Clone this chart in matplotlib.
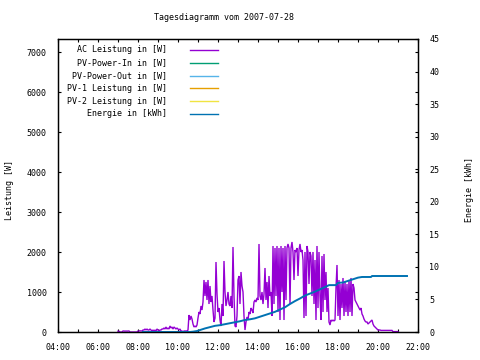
import numpy as np
import matplotlib
matplotlib.use("Agg")
import matplotlib.pyplot as plt
from matplotlib.lines import Line2D

# ---------------- data ----------------
title = "Tagesdiagramm vom 2007-07-28"
series_names = ["AC Leistung in [W]", "PV-Power-In in [W]", "PV-Power-Out in [W]",
                "PV-1 Leistung in [W]", "PV-2 Leistung in [W]", "Energie in [kWh]"]
series_colors = ["#9400d3", "#009e73", "#56b4e9", "#e69f00", "#f0e442", "#0072b2"]

# AC power samples, every 3 minutes from 07:00 to 21:00
ac_start_hour = 7.0
ac_step_hours = 0.05
ac_power = [
    20, 20, 0, 0, 0, 25, 25, 20, 25, 20, 25, 25, 0, 0, 0, 0, 0, 0, 0, 0,
    25, 25, 30, 25, 25, 50,
    50, 75, 50, 75, 50, 50, 75, 50, 25, 50,
    25, 50, 25, 75, 50, 25, 50, 50, 75,
    75, 100, 75, 125, 75, 100, 75, 150, 100, 125, 75, 125, 100, 75, 100, 75, 50, 75,
    25, 25, 0, 25, 25, 25, 25, 50,
    425, 300, 400, 325, 200, 125, 150, 125, 175, 350,
    500, 450, 650, 550, 750, 1300, 900, 1250, 800, 1300,
    700, 1150, 750, 900, 550, 250, 350, 1750, 950, 500,
    600, 300, 150, 700, 400, 1775, 1000, 650, 800, 1000,
    700, 650, 900, 600, 2125, 900, 150, 125, 400, 1300,
    1400, 700, 1500, 1150, 1000, 400, 50, 250, 375, 300,
    500, 450, 600, 550, 475, 750, 800, 750, 850, 800,
    2200, 900, 800, 1000, 700, 950, 1600, 800, 1250, 600,
    1400, 900, 1000, 400, 2150, 700, 2100, 900, 2150, 500,
    2100, 300, 2150, 1000, 2100, 300, 2150, 800, 2100, 2200,
    2100, 700, 2100, 2250, 2000, 1300, 2050, 2000, 2100, 1400,
    2050, 2200, 2000, 2050, 1800, 350, 2000, 400, 2150, 2000,
    1200, 2000, 1900, 900, 2000, 700, 1800, 300, 2150, 600,
    2000, 900, 300, 1900, 500, 1950, 800, 1500, 500, 1100,
    250, 175, 300, 275, 300, 275, 300, 1100, 1675, 400,
    1300, 300, 1200, 600, 1350, 400, 1250, 500, 1200, 400,
    1300, 500, 1350, 400, 1200, 1100, 800, 750, 700, 650,
    600, 550, 600, 450, 400, 325, 275, 250, 250, 200,
    225, 250, 275, 300, 200, 150, 125, 100, 75, 50,
    50, 50, 40, 40, 40, 40, 40, 40, 40, 40,
    40, 40, 40, 40, 10, 10, 10, 10, 10, 10,
]

# Energy (kWh), cumulative, at given times (hours)
energy_hours = [8.25, 10.6, 10.75, 10.95, 11.1, 11.35, 11.6, 11.85, 12.1, 12.35, 12.6,
                12.85, 13.1, 13.35, 13.6, 13.85, 14.1, 14.35, 14.6, 14.85, 15.1, 15.35,
                15.6, 15.85, 16.1, 16.35, 16.6, 16.85, 17.1, 17.35, 17.55, 17.9, 18.0,
                18.25, 18.5, 18.75, 19.0, 19.2, 19.65, 19.7, 21.45]
energy_kwh = [0.0, 0.0, 0.05, 0.15, 0.3, 0.55, 0.75, 0.95, 1.05, 1.2, 1.35,
              1.5, 1.65, 1.85, 1.95, 2.1, 2.35, 2.6, 2.85, 3.1, 3.45, 3.8,
              4.3, 4.75, 5.15, 5.6, 5.9, 6.2, 6.55, 6.9, 7.2, 7.2, 7.55,
              7.6, 7.85, 8.1, 8.35, 8.45, 8.45, 8.6, 8.6]

xtick_hours = [4, 6, 8, 10, 12, 14, 16, 18, 20, 22]
xtick_labels = ["04:00", "06:00", "08:00", "10:00", "12:00", "14:00", "16:00",
                "18:00", "20:00", "22:00"]
ytick_left = [0, 1000, 2000, 3000, 4000, 5000, 6000, 7000]
ytick_right = [0, 5, 10, 15, 20, 25, 30, 35, 40, 45]

# ---------------- plot ----------------
FONT = "DejaVu Sans Mono"
FS = 6.0
plt.rcParams["font.family"] = FONT

W, H = 480, 360
fig = plt.figure(figsize=(4.8, 3.6), dpi=100)
L, R, T, B = 58, 418, 39, 332
ax = fig.add_axes([L / W, 1 - B / H, (R - L) / W, (B - T) / H])
ax2 = ax.twinx()

ac_hours = ac_start_hour + ac_step_hours * np.arange(len(ac_power))
ax.plot(ac_hours, ac_power, color=series_colors[0], lw=1.0, solid_joinstyle="miter")
ax2.plot(energy_hours, energy_kwh, color=series_colors[5], lw=1.4)

ax.set_xlim(4, 22)
ax.set_ylim(0, 7325)
ax2.set_ylim(0, 45)

ax.set_xticks(xtick_hours)
ax.set_xticklabels(xtick_labels)
ax.set_xticks(np.arange(4, 23, 1), minor=True)
ax.set_yticks(ytick_left)
ax2.set_yticks(ytick_right)

tl = 2.3
ax.tick_params(axis="x", which="both", direction="in", top=True, bottom=True,
               length=tl, width=0.8, labelsize=FS, pad=8)
ax.tick_params(axis="y", which="both", direction="in", left=True, right=True,
               length=tl, width=0.8, labelsize=FS, pad=8)
ax2.tick_params(axis="y", direction="in", length=tl, width=0.8, labelsize=FS, pad=8)

for a in (ax, ax2):
    for s in a.spines.values():
        s.set_linewidth(0.9)
        s.set_color("black")

fig.text(224 / W, 1 - 18 / H, title, ha="center", va="center", fontsize=FS)
fig.text(10 / W, 1 - 190 / H, "Leistung [W]", rotation=90, ha="center", va="center", fontsize=FS)
fig.text(470 / W, 1 - 190 / H, "Energie [kWh]", rotation=90, ha="center", va="center", fontsize=FS)

# legend (inside top-left, gnuplot style: text right-aligned, sample on the right)
row_y = [49.5, 62.5, 75.5, 88.3, 101, 114]
for name, col, yy in zip(series_names, series_colors, row_y):
    fig.text(167 / W, 1 - yy / H, name, ha="right", va="center", fontsize=FS)
    fig.add_artist(Line2D([190 / W, 218 / W], [1 - yy / H, 1 - yy / H],
                          color=col, lw=1.0, transform=fig.transFigure))

fig.savefig("out.png", dpi=100)
